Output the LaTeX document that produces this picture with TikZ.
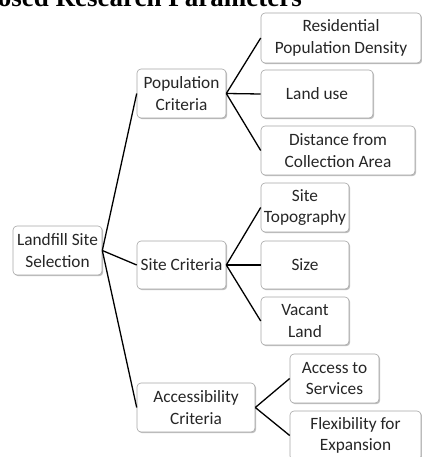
\documentclass[tikz,border=0pt]{standalone}
\usepackage{fontspec}
\setmainfont{Carlito}
\newfontfamily\titlefont{Liberation Serif}
\usetikzlibrary{shadows}
\begin{document}
\begin{tikzpicture}[x=1pt,y=-1pt,
  box/.style={draw=black!35, line width=0.6pt, fill=white, rounded corners=4pt,
    align=center, inner sep=0pt, text=black!85,
    font=\fontsize{17.3}{21.5}\selectfont,
    drop shadow={shadow xshift=1.2pt, shadow yshift=-1.2pt, opacity=0.25, fill=black}},
  link/.style={line width=1.3pt, black}]
\useasboundingbox (0,0) rectangle (422,457);
\clip (0,0) rectangle (422,457);
\node[anchor=base east, inner sep=0pt, font=\titlefont\bfseries\fontsize{27}{31}\selectfont] (title) at (302,7) {Proposed Research Parameters};
\node[box, minimum width=89pt, minimum height=49pt] (root) at (57.5,250.5) {Landfill Site\\Selection};
\node[box, minimum width=89pt, minimum height=49pt] (pop) at (181.5,93.5) {Population\\Criteria};
\node[box, minimum width=89pt, minimum height=48pt] (site) at (181.5,265) {Site Criteria};
\node[box, minimum width=118pt, minimum height=49pt] (acc) at (196,407.5) {Accessibility\\Criteria};
\node[box, minimum width=160pt, minimum height=50pt] (res) at (341,38) {Residential\\Population Density};
\node[box, minimum width=112pt, minimum height=48pt] (land) at (317,94) {Land use};
\node[box, minimum width=154pt, minimum height=49pt] (dist) at (338,150.5) {Distance from\\Collection Area};
\node[box, minimum width=88pt, minimum height=49pt] (topo) at (305,207.5) {Site\\Topography};
\node[box, minimum width=88pt, minimum height=48pt] (size) at (305,265) {Size};
\node[box, minimum width=88pt, minimum height=48pt] (vac) at (305,321) {Vacant\\Land};
\node[box, minimum width=89pt, minimum height=49pt] (serv) at (334.5,378.5) {Access to\\Services};
\node[box, minimum width=131pt, minimum height=49pt] (flex) at (355.5,435.5) {Flexibility for\\Expansion};
\draw[link] (root.east) -- (pop.west);
\draw[link] (root.east) -- (site.west);
\draw[link] (root.east) -- (acc.west);
\draw[link] (pop.east) -- (res.west);
\draw[link] (pop.east) -- (land.west);
\draw[link] (pop.east) -- (dist.west);
\draw[link] (site.east) -- (topo.west);
\draw[link] (site.east) -- (size.west);
\draw[link] (site.east) -- (vac.west);
\draw[link] (acc.east) -- (serv.west);
\draw[link] (acc.east) -- (flex.west);
\end{tikzpicture}
\end{document}
